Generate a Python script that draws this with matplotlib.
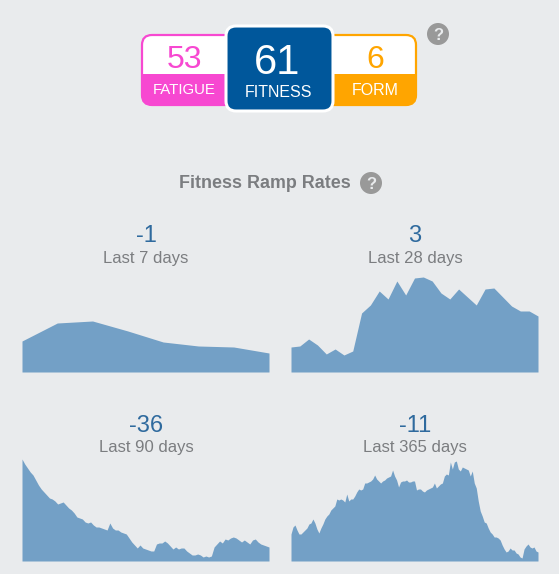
import numpy as np
import matplotlib
matplotlib.use('Agg')
import matplotlib.pyplot as plt
from matplotlib.patches import FancyBboxPatch, Rectangle, Circle

W, H = 559, 574
BG = '#e9ebed'
AREA = '#73a0c6'
GREY = '#7b7d80'
BLUE = '#2f6a9e'

plt.rcParams['font.family'] = ['Liberation Sans', 'DejaVu Sans']

# heights above the baseline (pixels)
last_7 = [31, 49, 51, 41, 30, 26, 25, 19]
last_28 = [25, 26, 33, 27, 18, 23, 17, 21, 59, 67, 81, 73, 91, 77, 94, 95,
           91, 79, 73, 83, 75, 67, 83, 84, 75, 66, 61, 61, 56]
last_90 = [102, 97, 93, 89, 86, 81, 76, 72, 69, 66, 63, 62, 60, 57, 58, 59,
           56, 53, 51, 48, 44, 43, 42, 39, 38, 39, 36, 34, 34, 33, 32, 31,
           38, 33, 31, 31, 29, 28, 27, 23, 19, 16, 13, 16, 13, 12, 11, 10,
           10, 17, 18, 18, 20, 18, 15, 12, 14, 12, 13, 13, 10, 8, 6, 6, 7,
           6, 4, 5, 4, 5, 14, 17, 20, 18, 22, 21, 23, 24, 23, 21, 19, 21,
           19, 17, 21, 22, 19, 17, 16, 15, 14]
last_365 = [27, 34, 36, 31, 27, 27, 29, 31, 33, 37, 38, 42, 38, 32, 28, 33,
            37, 42, 45, 47, 51, 53, 55, 62, 61, 62, 61, 59, 67, 60, 62, 62,
            65, 69, 72, 71, 72, 78, 78, 79, 80, 82, 86, 82, 80, 78, 80, 81,
            83, 84, 85, 91, 85, 81, 74, 79, 80, 80, 81, 79, 79, 80, 80, 71,
            72, 72, 70, 69, 71, 72, 73, 74, 78, 73, 75, 77, 78, 85, 87, 86,
            99, 92, 99, 100, 92, 90, 94, 93, 92, 91, 85, 90, 78, 73, 60, 50,
            45, 39, 38, 33, 29, 27, 24, 24, 23, 21, 16, 12, 9, 10, 13, 11,
            11, 8, 7, 4, 3, 12, 15, 17, 14, 13, 14, 10, 9]

badge_values = ['53', '61', '6']
badge_names = ['FATIGUE', 'FITNESS', 'FORM']
ramp_values = ['-1', '3', '-36', '-11']
ramp_labels = ['Last 7 days', 'Last 28 days', 'Last 90 days', 'Last 365 days']
ramp_series = [last_7, last_28, last_90, last_365]

fig = plt.figure(figsize=(W / 100, H / 100), dpi=100, facecolor=BG)

# overlay in pixel coordinates for the badges and labels
bg = fig.add_axes([0, 0, 1, 1])
bg.set_xlim(0, W)
bg.set_ylim(H, 0)
bg.axis('off')


def side_badge(x0, x1, xc, color, value, name, size):
    box = FancyBboxPatch((x0, 35), x1 - x0, 70,
                         boxstyle='round,pad=0,rounding_size=10',
                         fc='white', ec='none')
    bg.add_patch(box)
    band = Rectangle((x0, 74), x1 - x0, 32, fc=color, ec='none')
    bg.add_patch(band)
    band.set_clip_path(box)
    bg.add_patch(FancyBboxPatch((x0, 35), x1 - x0, 70,
                                boxstyle='round,pad=0,rounding_size=10',
                                fc='none', ec=color, lw=1.6))
    bg.text(xc, 57, value, color=color, fontsize=23, ha='center',
            va='center_baseline')
    bg.text(xc, 89, name, color='white', fontsize=size, ha='center',
            va='center_baseline')


side_badge(142, 240, 184, '#f748d1', badge_values[0], badge_names[0], 10.8)
side_badge(320, 416, 375, '#ffa500', badge_values[2], badge_names[2], 11.5)

bg.add_patch(FancyBboxPatch((226, 26), 107, 85,
                            boxstyle='round,pad=0,rounding_size=10',
                            fc='#00579b', ec='white', lw=2.2, zorder=3))
bg.text(277, 58, badge_values[1], color='white', fontsize=30, ha='center',
        va='center_baseline', zorder=4)
bg.text(279, 91, badge_names[1], color='white', fontsize=11.5, ha='center',
        va='center_baseline', zorder=4)

for cx, cy in [(438, 34), (371, 183)]:
    bg.add_patch(Circle((cx, cy), 11, fc='#999999', ec='none'))
    bg.text(cx, cy, '?', color='#e9ebed', fontsize=12, fontweight='bold',
            ha='center', va='center_baseline')

bg.text(265, 182, 'Fitness Ramp Rates', color=GREY, fontsize=12.9,
        fontweight='bold', ha='center', va='center_baseline')

# (left, right, baseline) of each small chart
panels = [(22, 269, 372), (291, 538, 372), (22, 269, 561), (291, 538, 561)]
centres = [146, 415, 146, 415]

for (x0, x1, base), cx, series, val, lab in zip(panels, centres, ramp_series,
                                                ramp_values, ramp_labels):
    ax = fig.add_axes([x0 / W, 1 - base / H, (x1 - x0) / W, 110 / H])
    ax.fill_between(np.arange(len(series)), series, 0, color=AREA, lw=0)
    ax.set_xlim(0, len(series) - 1)
    ax.set_ylim(0, 110)
    ax.axis('off')
    bg.text(cx, base - 138, val, color=BLUE, fontsize=17, ha='center',
            va='center_baseline')
    bg.text(cx, base - 115, lab, color=GREY, fontsize=12, ha='center',
            va='center_baseline')

fig.savefig('out.png', dpi=100, facecolor=BG)
